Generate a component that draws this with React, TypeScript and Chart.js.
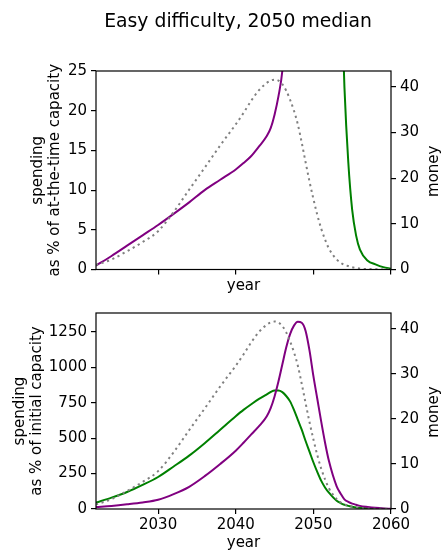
import React, { useEffect, useRef } from 'react'
import { Chart, registerables, type ChartConfiguration, type Plugin } from 'chart.js'

Chart.register(...registerables)

// sampled years shared by every series (denser around the peaks)
const years = [
  2022, 2024, 2026, 2028, 2030, 2032, 2034, 2036, 2038, 2040, 2041, 2042, 2043, 2044,
  2044.5, 2045, 2045.5, 2046, 2046.5, 2047, 2047.5, 2048, 2048.5, 2049, 2049.5, 2050,
  2050.5, 2051, 2051.5, 2052, 2053, 2053.5, 2054, 2054.5, 2055, 2055.5, 2056, 2057,
  2058, 2059, 2060,
]

// money (right axis, dotted grey) - same in both panels
const money = [
  1.0, 2.2, 4.0, 6.0, 8.4, 12.6, 17.5, 22.3, 27.2, 31.8, 34.3, 37.0, 39.3, 40.9,
  41.4, 41.6, 41.4, 40.6, 39.2, 37.2, 34.8, 31.8, 27.8, 23.5, 19.3, 15.5,
  12.0, 9.0, 6.6, 4.6, 2.2, 1.5, 1.0, 0.75, 0.5, 0.35, 0.2, 0.1,
  0.05, 0.02, 0,
]

// spending as % of at-the-time capacity
const purpleAtTime = [
  0.5, 1.7, 3.0, 4.3, 5.6, 7.0, 8.45, 10.0, 11.3, 12.6, 13.4, 14.3, 15.5, 16.8,
  17.8, 19.5, 21.8, 25.0, 32, 45, null, null, null, null, null, null,
  null, null, null, null, null, null, null, null, null, null, null, null,
  null, null, null,
]
const greenAtTime = [
  null, null, null, null, null, null, null, null, null, null, null, null, null, null,
  null, null, null, null, null, null, null, null, null, null, null, null,
  null, null, null, null, 60, 38, 23, 13.5, 7.5, 4.3, 2.5, 1.1,
  0.65, 0.3, 0.1,
]

// spending as % of initial capacity
const purpleInitial = [
  14, 22, 33, 46, 65, 105, 157, 232, 318, 412, 468, 527, 585, 655,
  712, 795, 900, 1020, 1140, 1235, 1295, 1322, 1315, 1257, 1120, 940,
  780, 620, 470, 340, 160, 110, 68, 50, 38, 30, 22, 14,
  8, 4, 2,
]
const greenInitial = [
  45, 80, 120, 170, 226, 300, 377, 465, 560, 655, 700, 740, 777, 810,
  826, 836, 836, 825, 798, 760, 700, 630, 560, 480, 405, 330,
  262, 200, 152, 115, 58, 42, 30, 22, 16, 11, 8, 4,
  2, 1, 0.5,
]

const yearTicks = [2030, 2040, 2050, 2060]
const atTimeTicks = [0, 5, 10, 15, 20, 25]
const initialTicks = [0, 250, 500, 750, 1000, 1250]
const moneyTicks = [0, 10, 20, 30, 40]

const FONT = 'DejaVu Sans'
const PURPLE = '#800080'
const GREEN = '#008000'
const GRAY = '#808080'
const INK = '#000'

const pts = (ys: (number | null)[]) => years.map((x, i) => ({ x, y: ys[i] }))

const frame: Plugin = {
  id: 'frame',
  afterDraw(chart) {
    const { ctx, chartArea: a } = chart
    ctx.save()
    ctx.strokeStyle = INK
    ctx.lineWidth = 1.2
    ctx.strokeRect(a.left, a.top, a.right - a.left, a.bottom - a.top)
    ctx.restore()
  },
}

// matplotlib writes the right label bottom-to-top, chart.js would flip it
const rightTitle = (text: string): Plugin => ({
  id: 'rightTitle',
  afterDraw(chart) {
    const { ctx, chartArea: a } = chart
    ctx.save()
    ctx.translate(434, (a.top + a.bottom) / 2 + 1)
    ctx.rotate(-Math.PI / 2)
    ctx.font = `15px "${FONT}"`
    ctx.fillStyle = INK
    ctx.textAlign = 'center'
    ctx.textBaseline = 'middle'
    ctx.fillText(text, 0, 0)
    ctx.restore()
  },
})

// figure title, sits a little right of the canvas centre like the original
const figTitle = (text: string): Plugin => ({
  id: 'figTitle',
  afterDraw(chart) {
    const { ctx } = chart
    ctx.save()
    ctx.font = `18.8px "${FONT}"`
    ctx.fillStyle = INK
    ctx.textAlign = 'center'
    ctx.textBaseline = 'middle'
    ctx.fillText(text, 238, 22.5)
    ctx.restore()
  },
})

const tickGrid = { drawOnChartArea: false, drawTicks: true, tickLength: 5, color: INK, lineWidth: 1.2 }
const tickFont = { family: FONT, size: 15 }

function lines(purple: (number | null)[], green: (number | null)[]) {
  return [
    {
      label: 'money', data: pts(money), yAxisID: 'y1',
      borderColor: GRAY, borderWidth: 2, borderDash: [2.2, 3.6], borderCapStyle: 'butt',
    },
    { label: 'purple', data: pts(purple), yAxisID: 'y', borderColor: PURPLE, borderWidth: 2 },
    { label: 'green', data: pts(green), yAxisID: 'y', borderColor: GREEN, borderWidth: 2 },
  ].map(d => ({ ...d, pointRadius: 0, fill: false, cubicInterpolationMode: 'monotone' as const }))
}

function makeConfig(opts: {
  purple: (number | null)[]
  green: (number | null)[]
  yMax: number
  yTicks: number[]
  yTitle: string[]
  yTitlePad: number
  xLabels: boolean
  xHeight: number
  xTitlePad: number
  padTop: number
  title?: string
}): ChartConfiguration {
  const plugins: Plugin[] = [frame, rightTitle('money')]
  if (opts.title) plugins.push(figTitle(opts.title))
  return {
    type: 'line',
    data: { datasets: lines(opts.purple, opts.green) as any },
    options: {
      responsive: true,
      maintainAspectRatio: false,
      animation: false,
      layout: { padding: { top: opts.padTop, left: 0, right: 0, bottom: 0 } },
      plugins: {
        legend: { display: false },
        tooltip: { enabled: false },
      },
      scales: {
        x: {
          type: 'linear', min: 2022, max: 2060,
          afterBuildTicks: (s: any) => { s.ticks = yearTicks.map(value => ({ value })) },
          afterFit: (s: any) => { s.height = opts.xHeight },
          grid: tickGrid, border: { display: false },
          ticks: { display: opts.xLabels, font: tickFont, color: INK, padding: 2, callback: (v: any) => String(v) },
          title: { display: true, text: 'year', color: INK, font: tickFont, padding: { top: 0, bottom: opts.xTitlePad } },
        },
        y: {
          type: 'linear', position: 'left', min: 0, max: opts.yMax,
          afterBuildTicks: (s: any) => { s.ticks = opts.yTicks.map(value => ({ value })) },
          afterFit: (s: any) => { s.width = 96 },
          grid: tickGrid, border: { display: false },
          ticks: { font: tickFont, color: INK, padding: 4, callback: (v: any) => String(v) },
          title: {
            display: true, text: opts.yTitle, color: INK,
            font: { family: FONT, size: 15, lineHeight: 1.15 },
            padding: { top: opts.yTitlePad, bottom: 0 },
          },
        },
        y1: {
          type: 'linear', position: 'right', min: 0, max: 43.5,
          afterBuildTicks: (s: any) => { s.ticks = moneyTicks.map(value => ({ value })) },
          afterFit: (s: any) => { s.width = 57 },
          grid: tickGrid, border: { display: false },
          ticks: { font: tickFont, color: INK, padding: 4, callback: (v: any) => String(v) },
        },
      },
    } as any,
    plugins,
  }
}

export default function App() {
  const topRef = useRef<HTMLCanvasElement>(null)
  const bottomRef = useRef<HTMLCanvasElement>(null)

  useEffect(() => {
    if (!topRef.current || !bottomRef.current) return
    const top = new Chart(topRef.current, makeConfig({
      purple: purpleAtTime, green: greenAtTime,
      yMax: 25, yTicks: atTimeTicks,
      yTitle: ['spending', 'as % of at-the-time capacity'], yTitlePad: 29.4,
      xLabels: false, xHeight: 30.5, xTitlePad: 5, padTop: 71,
      title: 'Easy difficulty, 2050 median',
    }))
    const bottom = new Chart(bottomRef.current, makeConfig({
      purple: purpleInitial, green: greenInitial,
      yMax: 1384, yTicks: initialTicks,
      yTitle: ['spending', 'as % of initial capacity'], yTitlePad: 11.4,
      xLabels: true, xHeight: 50, xTitlePad: 7, padTop: 10,
    }))
    return () => { top.destroy(); bottom.destroy() }
  }, [])

  return (
    <div style={{ position: 'absolute', left: 0, top: 0, width: 448, height: 559, background: '#fff' }}>
      <div style={{ position: 'absolute', left: 0, top: 0, width: 448, height: 300 }}>
        <canvas ref={topRef} />
      </div>
      <div style={{ position: 'absolute', left: 0, top: 300, width: 448, height: 259 }}>
        <canvas ref={bottomRef} />
      </div>
    </div>
  )
}
